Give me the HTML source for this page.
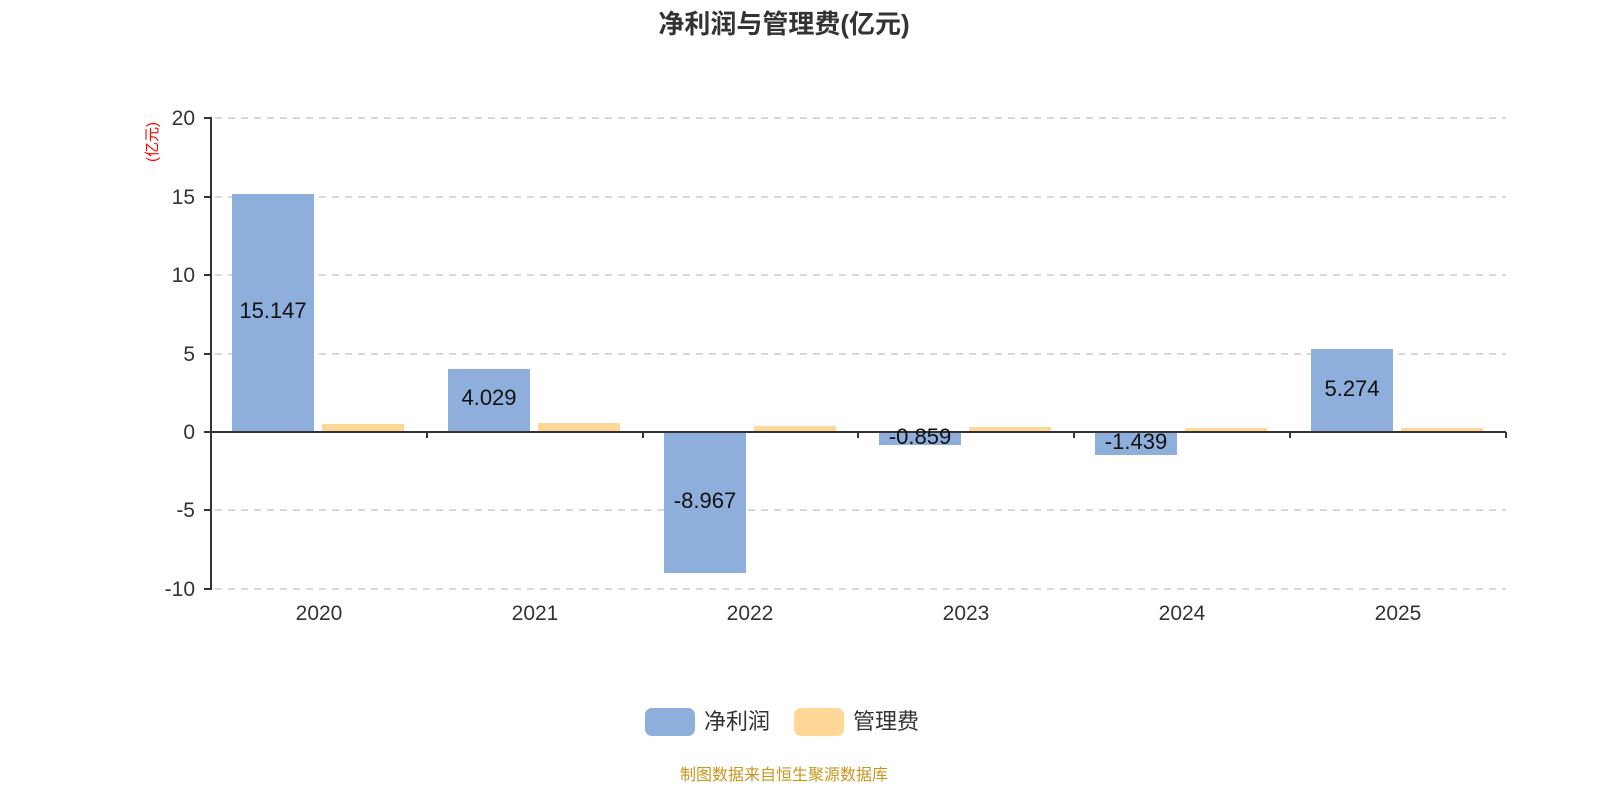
<!DOCTYPE html>
<html><head><meta charset="utf-8"><style>
html,body{margin:0;padding:0;background:#fff;overflow:hidden;width:1600px;height:800px;}
svg{display:block;}
svg text{font-family:"Liberation Sans","Noto Sans CJK SC",sans-serif;}
</style></head><body>
<svg width="1600" height="800" viewBox="0 0 1600 800" xmlns="http://www.w3.org/2000/svg">
<text x="784" y="33" text-anchor="middle" font-size="26" font-weight="bold" fill="#333">净利润与管理费(亿元)</text>
<g stroke="#ccc" stroke-width="1.5" stroke-dasharray="7,6">
<line x1="215" y1="118" x2="1506" y2="118"/>
<line x1="215" y1="197" x2="1506" y2="197"/>
<line x1="215" y1="275" x2="1506" y2="275"/>
<line x1="215" y1="354" x2="1506" y2="354"/>
<line x1="215" y1="510" x2="1506" y2="510"/>
<line x1="215" y1="589" x2="1506" y2="589"/>
</g>
<text transform="translate(157,142) rotate(-90)" text-anchor="middle" font-size="15" fill="#f00">(亿元)</text>
<g font-size="21" fill="#333" text-anchor="end">
<text x="195" y="125">20</text><text x="195" y="204">15</text><text x="195" y="282">10</text>
<text x="195" y="361">5</text><text x="195" y="439">0</text><text x="195" y="517">-5</text><text x="195" y="596">-10</text>
</g>
<g fill="#8eaedb">
<rect x="232" y="194" width="82" height="238"/>
<rect x="448" y="369" width="82" height="63"/>
<rect x="664" y="432" width="82" height="141"/>
<rect x="879" y="432" width="82" height="13"/>
<rect x="1095" y="432" width="82" height="23"/>
<rect x="1311" y="349" width="82" height="83"/>
</g>
<g fill="#ffd898">
<rect x="322" y="424" width="82" height="8"/>
<rect x="538" y="423" width="82" height="9"/>
<rect x="754" y="426" width="82" height="6"/>
<rect x="969" y="427" width="82" height="5"/>
<rect x="1185" y="428" width="82" height="4"/>
<rect x="1401" y="428" width="82" height="4"/>
</g>
<g stroke="#333" stroke-width="2">
<line x1="211" y1="117" x2="211" y2="590"/>
<line x1="204" y1="118" x2="211" y2="118"/><line x1="204" y1="197" x2="211" y2="197"/>
<line x1="204" y1="275" x2="211" y2="275"/><line x1="204" y1="354" x2="211" y2="354"/>
<line x1="204" y1="432" x2="211" y2="432"/><line x1="204" y1="510" x2="211" y2="510"/>
<line x1="204" y1="589" x2="211" y2="589"/>
<line x1="211" y1="432" x2="1506" y2="432"/>
<line x1="427" y1="432" x2="427" y2="438"/><line x1="643" y1="432" x2="643" y2="438"/>
<line x1="858" y1="432" x2="858" y2="438"/><line x1="1074" y1="432" x2="1074" y2="438"/>
<line x1="1290" y1="432" x2="1290" y2="438"/><line x1="1506" y1="432" x2="1506" y2="438"/>
</g>
<g font-size="22" fill="#111" text-anchor="middle">
<text x="273" y="318">15.147</text>
<text x="489" y="405">4.029</text>
<text x="705" y="508">-8.967</text>
<text x="920" y="444">-0.859</text>
<text x="1136" y="449">-1.439</text>
<text x="1352" y="396">5.274</text>
</g>
<g font-size="21" fill="#333" text-anchor="middle">
<text x="319" y="620">2020</text><text x="535" y="620">2021</text><text x="750" y="620">2022</text>
<text x="966" y="620">2023</text><text x="1182" y="620">2024</text><text x="1398" y="620">2025</text>
</g>
<rect x="645" y="708" width="50" height="28" rx="7" fill="#8eaedb"/>
<text x="704" y="729" font-size="22" fill="#333">净利润</text>
<rect x="794" y="708" width="50" height="28" rx="7" fill="#ffd898"/>
<text x="853" y="729" font-size="22" fill="#333">管理费</text>
<text x="784" y="780" text-anchor="middle" font-size="16" fill="#c8961e">制图数据来自恒生聚源数据库</text>
</svg>
</body></html>
